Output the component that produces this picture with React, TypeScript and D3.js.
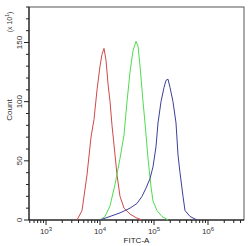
import React from 'react';
import * as d3 from 'd3';

// FITC-A intensity vs count (x10^1)
const redFitc = [3750, 4640, 5740, 6810, 7740, 8800, 10000, 10890, 11860, 12920, 14070, 15320, 16680, 18970, 20650, 23460, 27830, 35940, 46420, 59950];
const redCount = [0, 8, 38, 70, 85, 110, 130, 140, 145, 135, 115, 100, 80, 55, 38, 20, 10, 5, 2, 0];

const greenFitc = [10000, 12380, 15320, 18970, 23460, 27830, 31620, 35940, 40840, 46420, 50560, 55070, 62580, 68130, 77430, 87990, 95800, 113600, 140600, 181600];
const greenCount = [0, 3, 12, 30, 52, 72, 100, 125, 143, 151, 147, 130, 100, 82, 52, 28, 16, 8, 3, 0];

const blueFitc = [10000, 15320, 23460, 29040, 35940, 48420, 59950, 71110, 84340, 95800, 108900, 118600, 134800, 153200, 166800, 181600, 197800, 224700, 255400, 278300, 303000, 344400, 375100, 464200, 625600];
const blueCount = [0, 3, 6, 8, 10, 14, 20, 27, 35, 45, 62, 82, 100, 112, 118, 119, 112, 100, 82, 55, 40, 20, 8, 3, 0];

const xDecades = [3, 4, 5, 6];
const yLabels = [0, 50, 100, 150];

export default function App() {
  const W = 250, H = 246;
  const left = 29, right = 244, top = 7, bottom = 220;

  const x = d3.scaleLog().domain([484, 4640000]).range([left, right]);
  const y = d3.scaleLinear().domain([0, 180]).range([bottom, top]);

  const line = d3.line<[number, number]>()
    .x(d => x(d[0]))
    .y(d => y(d[1]));

  const series = [
    { xs: redFitc, ys: redCount, color: '#d0494a' },
    { xs: greenFitc, ys: greenCount, color: '#4fdc4f' },
    { xs: blueFitc, ys: blueCount, color: '#3c3f98' },
  ];

  // minor ticks on log axis
  const xMinor: number[] = [];
  for (let e = 2; e <= 6; e++) {
    for (let m = 1; m <= 9; m++) {
      const v = m * Math.pow(10, e);
      if (v >= 484 && v <= 4640000) xMinor.push(v);
    }
  }
  const yMinor = d3.range(0, 181, 10);

  const font = 'Liberation Sans, Arial, sans-serif';

  return (
    <div style={{ position: 'absolute', left: 0, top: 0 }}>
      <svg width={W} height={H} style={{ display: 'block', background: '#fff' }}>
        <rect x={left} y={top} width={right - left} height={bottom - top} fill="none" stroke="#555" strokeWidth={1} />
        <line x1={left} x2={left} y1={top} y2={bottom} stroke="#111" />
        <line x1={left} x2={right} y1={bottom} y2={bottom} stroke="#111" />

        {xMinor.map((v, i) => {
          const major = Math.abs(Math.log10(v) - Math.round(Math.log10(v))) < 1e-9;
          return <line key={i} x1={x(v)} x2={x(v)} y1={bottom} y2={bottom + (major ? 5 : 3)} stroke="#222" strokeWidth={1} />;
        })}
        {xDecades.map(e => (
          <text key={e} x={x(Math.pow(10, e))} y={234} fontSize={8} fontFamily={font} fill="#333" textAnchor="middle">
            10<tspan dy={-3} fontSize={6}>{e}</tspan>
          </text>
        ))}
        <text x={(left + right) / 2} y={243} fontSize={8} fontFamily={font} fill="#222" textAnchor="middle">FITC-A</text>

        {yMinor.map(v => (
          <line key={v} x1={left - (v % 50 === 0 ? 5 : 3)} x2={left} y1={y(v)} y2={y(v)} stroke="#222" />
        ))}
        {yLabels.map(v => (
          <text key={v} transform={`translate(22,${y(v)}) rotate(-90)`} fontSize={8} fontFamily={font} fill="#333" textAnchor="middle">{v}</text>
        ))}
        <text transform={`translate(12,110) rotate(-90)`} fontSize={8} fontFamily={font} fill="#333" textAnchor="middle">Count</text>
        <text transform={`translate(12,22) rotate(-90)`} fontSize={7} fontFamily={font} fill="#333" textAnchor="middle">
          (x 10<tspan dy={-3} fontSize={5}>1</tspan><tspan dy={3}>)</tspan>
        </text>

        {series.map((s, i) => (
          <path key={i} d={line(s.xs.map((v, j) => [v, s.ys[j]] as [number, number])) || ''} fill="none" stroke={s.color} strokeWidth={1} />
        ))}
      </svg>
    </div>
  );
}
